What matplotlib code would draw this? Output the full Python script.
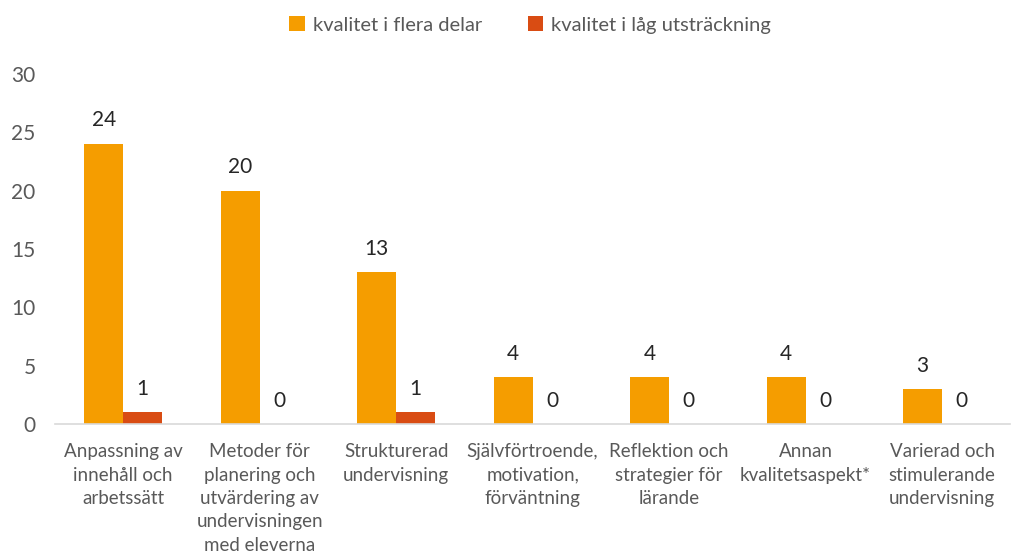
import numpy as np
import matplotlib.pyplot as plt

plt.rcParams['font.family'] = ['Lato', 'DejaVu Sans']

kategorier = ['Anpassning av\ninnehåll och\narbetssätt',
              'Metoder för\nplanering och\nutvärdering av\nundervisningen\nmed eleverna',
              'Strukturerad\nundervisning',
              'Självförtroende,\nmotivation,\nförväntning',
              'Reflektion och\nstrategier för\nlärande',
              'Annan\nkvalitetsaspekt*',
              'Varierad och\nstimulerande\nundervisning']
flera_delar = [24, 20, 13, 4, 4, 4, 3]
lag_utstr = [1, 0, 1, 0, 0, 0, 0]

fig = plt.figure(figsize=(10.12, 5.55), dpi=100)
ax = fig.add_axes([0.0543, 0.236, 0.944, 0.631])

x = np.arange(len(kategorier))
w = 0.286
b1 = ax.bar(x - w / 2, flera_delar, w, color='#F59D00', label='kvalitet i flera delar')
b2 = ax.bar(x + w / 2, lag_utstr, w, color='#D94C13', label='kvalitet i låg utsträckning')

for rects, vals in [(b1, flera_delar), (b2, lag_utstr)]:
    for r, v in zip(rects, vals):
        ax.text(r.get_x() + r.get_width() / 2, v + 1.15, str(v), ha='center',
                va='bottom', fontsize=15, color='#262626')

ax.set_xlim(-0.5, len(kategorier) - 0.5)
ax.set_ylim(0, 30)
ax.set_yticks([0, 5, 10, 15, 20, 25, 30])
ax.set_xticks(x)
ax.set_xticklabels(kategorier, fontsize=13.5, color='#595959', linespacing=1.45)
ax.tick_params(axis='y', labelsize=15, colors='#595959', length=0, pad=14)
ax.tick_params(axis='x', length=0, pad=14)
for s in ['top', 'right', 'left']:
    ax.spines[s].set_visible(False)
ax.spines['bottom'].set_color('#D9D9D9')
ax.spines['bottom'].set_linewidth(1.2)

fig.legend(loc='upper center', bbox_to_anchor=(0.524, 1.003), ncol=2, frameon=False,
           fontsize=14.5, labelcolor='#595959', handlelength=0.75, handleheight=0.75,
           handletextpad=0.4, columnspacing=2.3)

fig.savefig('out.png', dpi=100)
